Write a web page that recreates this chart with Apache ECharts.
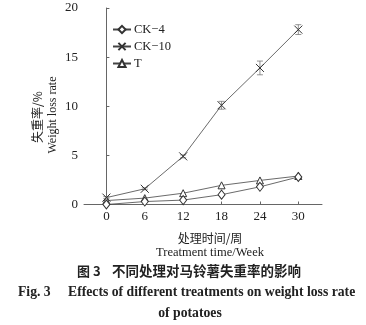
<!DOCTYPE html>
<html>
<head>
<meta charset="utf-8">
<script src="https://cdn.jsdelivr.net/npm/echarts@6/dist/echarts.min.js"></script>
<style>
  html, body { margin: 0; padding: 0; background: #fff; }
  #chart { width: 366px; height: 325px; }
</style>
</head>
<body>
<div id="chart"></div>
<script>
// Treatment time in weeks
const weeks = [0, 6, 12, 18, 24, 30];
// Weight loss rate (%) for each treatment
const ck4 = [0, 0.3, 0.45, 1.0, 1.8, 2.8];
const ck10 = [0.7, 1.6, 4.9, 10.1, 13.9, 17.8];
const tGroup = [0.4, 0.65, 1.15, 1.95, 2.45, 2.9];
// Standard errors for CK-10
const ck10Err = [0.1, 0.1, 0.15, 0.4, 0.7, 0.5];
// Tick values
const xTicks = [0, 6, 12, 18, 24, 30];

const serif = '"Liberation Serif", "DejaVu Serif", serif';
const cjk = '"Noto Sans CJK SC", sans-serif';
const ink = '#222';
const lineColor = '#444';

const pairs = arr => weeks.map((w, i) => [w, arr[i]]);

const chart = echarts.init(document.getElementById('chart'), null, { renderer: 'canvas' });

const markStyle = { color: '#fff', borderColor: '#333', borderWidth: 1 };

chart.setOption({
  animation: false,
  backgroundColor: '#fff',
  grid: { left: 84, right: 44, top: 8, bottom: 120.5, containLabel: false },
  legend: {
    orient: 'vertical',
    left: 112,
    top: 23,
    padding: 0,
    itemGap: 4,
    itemWidth: 18,
    itemHeight: 9,
    textStyle: { fontFamily: serif, fontSize: 12.5, color: ink, padding: [0, 0, 0, -2] },
    data: ['CK−4', 'CK−10', 'T']
  },
  xAxis: {
    type: 'value',
    min: -3.5,
    max: 33.7,
    axisLine: { show: true, lineStyle: { color: '#666', width: 1 } },
    axisTick: { show: true, inside: true, length: 3, customValues: xTicks, lineStyle: { color: '#666' } },
    axisLabel: { customValues: xTicks, fontFamily: serif, fontSize: 13, color: ink, margin: 6 },
    splitLine: { show: false }
  },
  yAxis: {
    type: 'value',
    min: 0,
    max: 20,
    interval: 5,
    axisLine: { show: true, lineStyle: { color: '#666', width: 1 } },
    axisTick: { show: true, inside: true, length: 3, lineStyle: { color: '#666' } },
    axisLabel: { fontFamily: serif, fontSize: 13, color: ink, margin: 6 },
    splitLine: { show: false }
  },
  series: [
    {
      name: 'CK−10',
      type: 'line',
      data: pairs(ck10),
      symbol: 'path://M0,0L10,10M10,0L0,10',
      symbolSize: 8,
      lineStyle: { color: lineColor, width: 0.8 },
      itemStyle: { color: '#333', borderColor: '#333', borderWidth: 1 },
      z: 3
    },
    {
      name: 'T',
      type: 'line',
      data: pairs(tGroup),
      symbol: 'triangle',
      symbolSize: 7,
      lineStyle: { color: lineColor, width: 0.8 },
      itemStyle: markStyle,
      z: 4
    },
    {
      name: 'CK−4',
      type: 'line',
      data: pairs(ck4),
      symbol: 'diamond',
      symbolSize: [7, 9],
      lineStyle: { color: lineColor, width: 0.8 },
      itemStyle: markStyle,
      z: 5
    },
    {
      name: 'err',
      type: 'custom',
      data: weeks.map((w, i) => [w, ck10[i], ck10Err[i]]),
      z: 2,
      renderItem: function (params, api) {
        const x = api.value(0), y = api.value(1), e = api.value(2);
        const top = api.coord([x, y + e]);
        const bot = api.coord([x, y - e]);
        const half = 3;
        const style = { stroke: '#777', lineWidth: 0.8 };
        return {
          type: 'group',
          children: [
            { type: 'line', shape: { x1: top[0], y1: top[1], x2: bot[0], y2: bot[1] }, style },
            { type: 'line', shape: { x1: top[0] - half, y1: top[1], x2: top[0] + half, y2: top[1] }, style },
            { type: 'line', shape: { x1: bot[0] - half, y1: bot[1], x2: bot[0] + half, y2: bot[1] }, style }
          ]
        };
      }
    }
  ],
  graphic: [
    { type: 'text', x: 37, y: 117, rotation: Math.PI / 2,
      style: { text: '失重率/%', font: '12px ' + cjk, fill: ink, textAlign: 'center', textVerticalAlign: 'middle' } },
    { type: 'text', x: 53, y: 115, rotation: Math.PI / 2,
      style: { text: 'Weight loss rate', font: '12px ' + serif, fill: ink, textAlign: 'center', textVerticalAlign: 'middle' } },
    { type: 'text', x: 210, y: 238,
      style: { text: '处理时间/周', font: '12px ' + cjk, fill: ink, textAlign: 'center', textVerticalAlign: 'middle' } },
    { type: 'text', x: 210, y: 253,
      style: { text: 'Treatment time/Week', font: '12.5px ' + serif, fill: ink, textAlign: 'center', textVerticalAlign: 'middle' } },
    { type: 'text', x: 77, y: 271,
      style: { text: '图 3', font: 'bold 13px ' + cjk, fill: ink, textAlign: 'left', textVerticalAlign: 'middle' } },
    { type: 'text', x: 112, y: 271,
      style: { text: '不同处理对马铃薯失重率的影响', font: 'bold 13.5px ' + cjk, fill: ink, textAlign: 'left', textVerticalAlign: 'middle' } },
    { type: 'text', x: 18, y: 292,
      style: { text: 'Fig. 3', font: 'bold 13.7px ' + serif, fill: ink, textAlign: 'left', textVerticalAlign: 'middle' } },
    { type: 'text', x: 68, y: 292,
      style: { text: 'Effects of different treatments on weight loss rate', font: 'bold 13.7px ' + serif, fill: ink, textAlign: 'left', textVerticalAlign: 'middle' } },
    { type: 'text', x: 190, y: 313,
      style: { text: 'of potatoes', font: 'bold 13.7px ' + serif, fill: ink, textAlign: 'center', textVerticalAlign: 'middle' } }
  ]
});
</script>
</body>
</html>
